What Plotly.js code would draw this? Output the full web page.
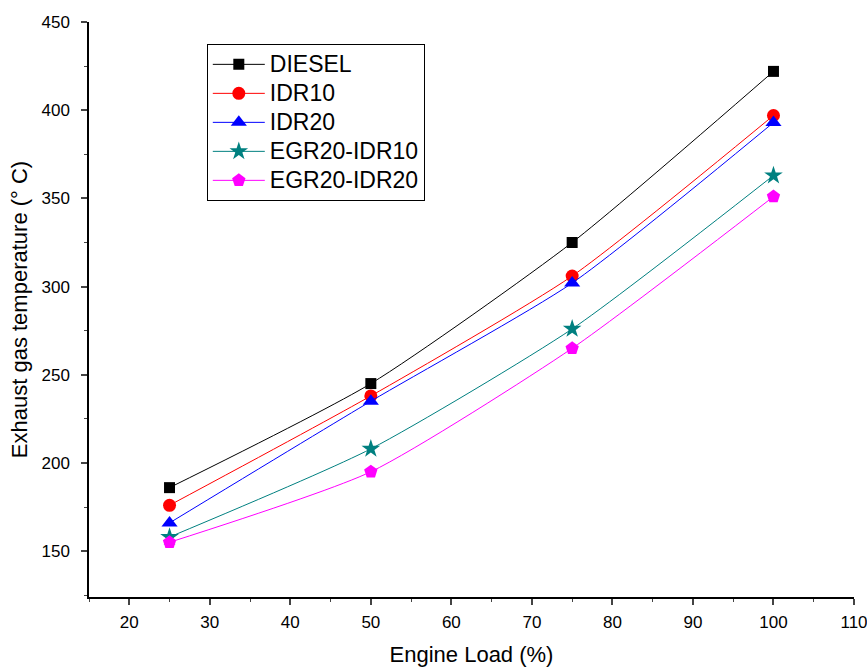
<!DOCTYPE html>
<html><head><meta charset="utf-8">
<script src="https://cdn.plot.ly/plotly-3.0.1.min.js"></script>
<style>body{margin:0;padding:0;background:#fff}#chart{width:867px;height:667px}</style>
</head><body><div id="chart"></div>
<script>
const load = [25, 50, 75, 100];
const diesel = [186, 245, 325, 422];
const idr10 = [176, 238, 306, 397];
const idr20 = [166, 235, 302, 393];
const egr20idr10 = [158, 208, 276, 363];
const egr20idr20 = [155, 195, 265, 351];
const seriesNames = ['DIESEL', 'IDR10', 'IDR20', 'EGR20-IDR10', 'EGR20-IDR20'];
const seriesData = [diesel, idr10, idr20, egr20idr10, egr20idr20];
const colors = ['#000000', '#ff0000', '#0000ff', '#008080', '#ff00ff'];
const symbols = ['square', 'circle', 'triangle-up', 'star', 'pentagon'];
const sizes = [11, 13, 14, 14, 14];

const traces = seriesNames.map((n, i) => ({
  x: load, y: seriesData[i], type: 'scatter', mode: 'lines+markers',
  name: '<span style="font-size:23px">' + n + '</span>',
  line: {color: colors[i], width: 1, shape: 'spline', smoothing: 0.6},
  marker: {color: colors[i], symbol: symbols[i], size: sizes[i], line: {width: 0}}
}));

const layout = {
  width: 867, height: 667,
  margin: {l: 89, r: 13, t: 22, b: 70},
  paper_bgcolor: '#fff', plot_bgcolor: '#fff',
  font: {family: 'Liberation Sans, Arial, sans-serif', color: '#000'},
  showlegend: true,
  legend: {x: 0.154, y: 0.962, xanchor: 'left', yanchor: 'top',
    bordercolor: '#000', borderwidth: 1, bgcolor: '#fff',
    font: {size: 20, family: 'Liberation Sans, Arial, sans-serif'}, tracegroupgap: 0,
    itemwidth: 52},
  xaxis: {range: [15, 110], dtick: 10, tick0: 0, showgrid: false, zeroline: false,
    showline: true, linecolor: '#000', linewidth: 1.5, ticks: 'outside', ticklen: 6, tickwidth: 1.5,
    tickfont: {size: 17}, mirror: false, ticklabelstandoff: 3, ticklabeloverflow: 'allow',
    minor: {dtick: 5, tick0: 0, ticks: 'outside', ticklen: 3, tickwidth: 1, showgrid: false},
    title: {text: 'Engine Load (%)', font: {size: 22}, standoff: 18}},
  yaxis: {range: [124, 450], dtick: 50, tick0: 0, showgrid: false, zeroline: false,
    showline: true, linecolor: '#000', linewidth: 1.5, ticks: 'outside', ticklen: 6, tickwidth: 1.5,
    tickfont: {size: 17}, ticklabelstandoff: 8, ticklabeloverflow: 'allow',
    minor: {dtick: 25, tick0: 0, ticks: 'outside', ticklen: 3, tickwidth: 1, showgrid: false},
    title: {text: 'Exhaust gas temperature (° C)', font: {size: 22}, standoff: 8}}
};
Plotly.newPlot('chart', traces, layout, {displayModeBar: false});
</script></body></html>
